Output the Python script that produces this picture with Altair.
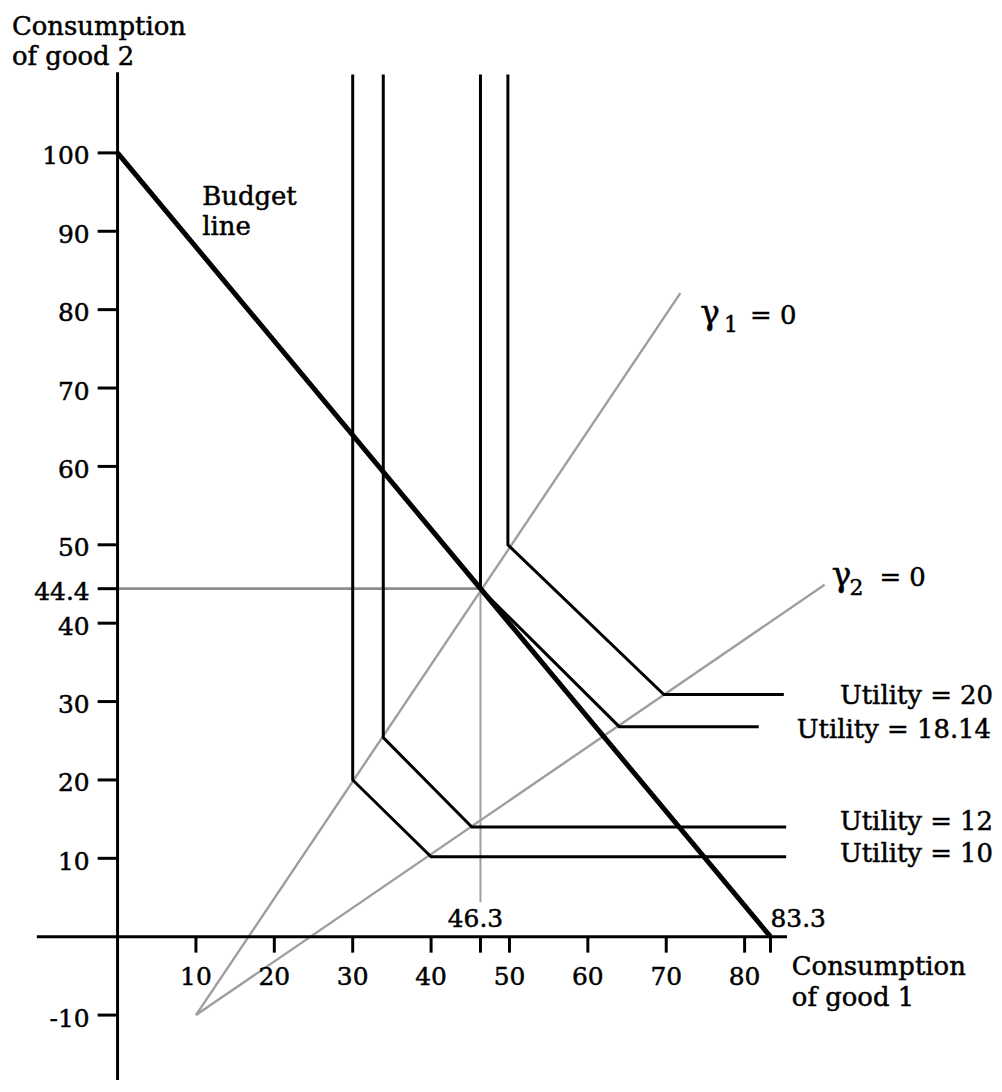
import altair as alt
import pandas as pd

# ---------------- data ----------------
budget_x = [0, 83.3]
budget_y = [100, 0]

# utility curves (vertical part, kink on gamma1, kink on gamma2, horizontal end)
util_names = ["U10", "U12", "U18.14", "U20"]
util_x = [
    [30.0, 30.0, 40.0, 85.3],
    [33.9, 33.9, 45.2, 85.3],
    [46.3, 46.3, 64.0, 81.8],
    [49.8, 49.8, 69.7, 85.0],
]
util_y = [
    [110.0, 20.0, 10.2, 10.2],
    [110.0, 25.4, 14.0, 14.0],
    [110.0, 44.4, 26.8, 26.8],
    [110.0, 50.0, 30.9, 30.9],
]

# gamma lines (gray)
gamma_x1 = [10, 10]
gamma_y1 = [-10, -10]
gamma_x2 = [71.8, 90.2]
gamma_y2 = [82.1, 44.9]

# optimum guides
opt_x = 46.3
opt_y = 44.4
guide_bottom = 4.4

# axes extent
xaxis_from, xaxis_to = -10.3, 85.4
yaxis_from, yaxis_to = -19.6, 110.3

y_ticks = [100, 90, 80, 70, 60, 50, 44.4, 40, 30, 20, 10, -10]
y_tick_labels = ["100", "90", "80", "70", "60", "50", "44.4", "40", "30", "20", "10", "-10"]
x_ticks = [10, 20, 30, 40, 46.3, 50, 60, 70, 80, 83.3]
x_tick_label_vals = [10, 20, 30, 40, 50, 60, 70, 80]
x_tick_labels = ["10", "20", "30", "40", "50", "60", "70", "80"]

left_text = ["Consumption", "of good 2", "Budget", "line", "= 0", "= 0", "Consumption", "of good 1"]
left_x = [-13.47, -13.47, 10.80, 10.80, 80.69, 97.20, 86.02, 86.02]
left_y = [114.99, 111.18, 93.39, 89.58, 78.14, 44.68, -4.88, -8.89]

greek_text = ["γ", "γ"]
greek_x = [74.33, 91.11]
greek_y = [78.14, 44.68]
sub_text = ["1", "2"]
sub_x = [77.38, 93.39]
sub_y = [77.17, 43.62]

util_label_text = ["Utility = 20", "Utility = 18.14", "Utility = 12", "Utility = 10"]
util_label_x = [111.69, 111.44, 111.69, 111.69]
util_label_y = [29.64, 25.41, 13.55, 9.53]

value_label_text = ["46.3", "83.3"]
value_label_x = [46.3, 83.3]

# ---------------- scales ----------------
PX = 7.87
W, H = 990, 1072
X0 = -110 / PX
X1 = X0 + W / PX
Y1 = 930.3 / PX
Y0 = Y1 - H / PX
xs = alt.Scale(domain=[X0, X1], nice=False, zero=False)
ys = alt.Scale(domain=[Y0, Y1], nice=False, zero=False)
FONT = "DejaVu Serif"
TXT = dict(font=FONT, baseline="alphabetic", color="black", stroke="black", strokeWidth=0.5)


def X(f="x"):
    return alt.X(f"{f}:Q", scale=xs, axis=None)


def Y(f="y"):
    return alt.Y(f"{f}:Q", scale=ys, axis=None)


# ---------------- tables ----------------
seg_rows = []
def seg(x1, y1, x2, y2, kind):
    seg_rows.append({"x": x1, "y": y1, "x2": x2, "y2": y2, "kind": kind})

seg(xaxis_from, 0, xaxis_to, 0, "axis")
seg(0, yaxis_from, 0, yaxis_to, "axis")
for a, b, c, d in zip(gamma_x1, gamma_y1, gamma_x2, gamma_y2):
    seg(a, b, c, d, "gamma")
seg(0, opt_y, opt_x, opt_y, "hguide")
seg(opt_x, opt_y, opt_x, guide_bottom, "vguide")
seg(budget_x[0], budget_y[0], budget_x[1], budget_y[1], "budget")
segs = pd.DataFrame(seg_rows)

util_rows = []
for n, xx, yy in zip(util_names, util_x, util_y):
    for i, (a, b) in enumerate(zip(xx, yy)):
        util_rows.append({"id": n, "i": i, "x": a, "y": b})
util_df = pd.DataFrame(util_rows)

ytick_df = pd.DataFrame({"y": y_ticks, "x": 0, "label": y_tick_labels})
xtick_df = pd.DataFrame({"x": x_ticks, "y": 0})
xlab_df = pd.DataFrame({"x": x_tick_label_vals, "y": 0, "label": x_tick_labels})
left_df = pd.DataFrame({"x": left_x, "y": left_y, "label": left_text})
greek_df = pd.DataFrame({"x": greek_x, "y": greek_y, "label": greek_text})
sub_df = pd.DataFrame({"x": sub_x, "y": sub_y, "label": sub_text})
ulab_df = pd.DataFrame({"x": util_label_x, "y": util_label_y, "label": util_label_text})
vlab_df = pd.DataFrame({"x": value_label_x, "y": 0, "label": value_label_text})


def seg_layer(kind, color, width):
    return alt.Chart(segs).transform_filter(alt.datum.kind == kind).mark_rule(
        color=color, strokeWidth=width, strokeCap="butt"
    ).encode(x=X(), y=Y(), x2="x2:Q", y2="y2:Q")


gamma = seg_layer("gamma", "#9e9e9e", 2.4)
hguide = seg_layer("hguide", "#8c8c8c", 2.8)
vguide = seg_layer("vguide", "#9e9e9e", 2.0)
axes = seg_layer("axis", "black", 3)
budget = seg_layer("budget", "black", 5)

utils = alt.Chart(util_df).mark_line(
    color="black", strokeWidth=3, strokeJoin="miter", strokeCap="butt"
).encode(x=X(), y=Y(), detail="id:N", order="i:Q")

yticks = alt.Chart(ytick_df).mark_rule(
    color="black", strokeWidth=3, x2Offset=-20
).encode(x=X(), x2="x:Q", y=Y())

xticks = alt.Chart(xtick_df).mark_rule(
    color="black", strokeWidth=3, y2Offset=16
).encode(x=X(), y=Y(), y2="y:Q")

ylabels = alt.Chart(ytick_df).mark_text(
    fontSize=25, align="right", dx=-28, dy=11.6, **TXT
).encode(x=X(), y=Y(), text="label:N")

xlabels = alt.Chart(xlab_df).mark_text(
    fontSize=25, align="center", dy=48.4, **TXT
).encode(x=X(), y=Y(), text="label:N")

vlab46 = alt.Chart(vlab_df).transform_filter(alt.datum.label == "46.3").mark_text(
    fontSize=25, align="center", dx=-5, dy=-10, **TXT
).encode(x=X(), y=Y(), text="label:N")

vlab83 = alt.Chart(vlab_df).transform_filter(alt.datum.label == "83.3").mark_text(
    fontSize=25, align="left", dy=-10, **TXT
).encode(x=X(), y=Y(), text="label:N")

left_labels = alt.Chart(left_df).mark_text(
    fontSize=26, align="left", **TXT
).encode(x=X(), y=Y(), text="label:N")

greek = alt.Chart(greek_df).mark_text(
    fontSize=33, align="left", **TXT
).encode(x=X(), y=Y(), text="label:N")

subs = alt.Chart(sub_df).mark_text(
    fontSize=22, align="left", **TXT
).encode(x=X(), y=Y(), text="label:N")

ulabels = alt.Chart(ulab_df).mark_text(
    fontSize=26, align="right", **TXT
).encode(x=X(), y=Y(), text="label:N")

chart = alt.layer(
    gamma, hguide, vguide, utils, budget, axes, yticks, xticks,
    ylabels, xlabels, vlab46, vlab83, left_labels, greek, subs, ulabels,
).properties(
    width=W, height=H, autosize=alt.AutoSizeParams(type="none"), padding=0
).configure_view(stroke=None)

chart.save("out.html", embed_options={"renderer": "svg", "actions": False})
